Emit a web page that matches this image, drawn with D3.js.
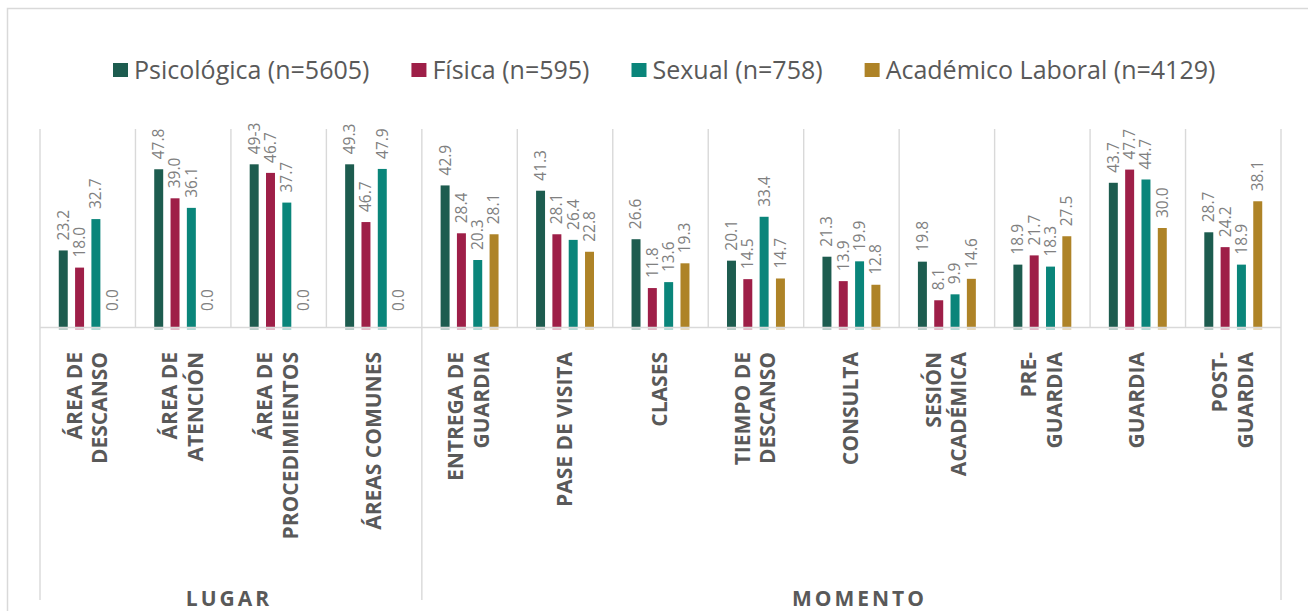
<!DOCTYPE html>
<html>
<head>
<meta charset="utf-8">
<script src="https://cdn.jsdelivr.net/npm/d3@7"></script>
<style>
  html, body { margin: 0; padding: 0; background: #ffffff; }
  svg { display: block; font-family: "Open Sans", "Noto Sans", sans-serif; }
</style>
</head>
<body>
<svg id="chart" width="1308" height="611"></svg>
<script>
// ---- data ----
const categories = [
  "ÁREA DE|DESCANSO", "ÁREA DE|ATENCIÓN", "ÁREA DE|PROCEDIMIENTOS", "ÁREAS COMUNES",
  "ENTREGA DE|GUARDIA", "PASE DE VISITA", "CLASES", "TIEMPO DE|DESCANSO", "CONSULTA",
  "SESIÓN|ACADÉMICA", "PRE-|GUARDIA", "GUARDIA", "POST-|GUARDIA"
];
const groupNames = ["LUGAR", "MOMENTO"];
const groupSizes = [4, 9];

const seriesNames = ["Psicológica (n=5605)", "Física (n=595)", "Sexual (n=758)", "Académico Laboral (n=4129)"];

const psicologica = [23.2, 47.8, 49.3, 49.3, 42.9, 41.3, 26.6, 20.1, 21.3, 19.8, 18.9, 43.7, 28.7];
const fisica      = [18.0, 39.0, 46.7, 31.8, 28.4, 28.1, 11.8, 14.5, 13.9, 8.1, 21.7, 47.7, 24.2];
const sexual      = [32.7, 36.1, 37.7, 47.9, 20.3, 26.4, 13.6, 33.4, 19.9, 9.9, 18.3, 44.7, 18.9];
const academico   = [0.0, 0.0, 0.0, 0.0, 28.1, 22.8, 19.3, 14.7, 12.8, 14.6, 27.5, 30.0, 38.1];

// data-label texts as printed on the chart
const psicologicaLabels = ["23.2", "47.8", "49-3", "49.3", "42.9", "41.3", "26.6", "20.1", "21.3", "19.8", "18.9", "43.7", "28.7"];
const fisicaLabels      = ["18.0", "39.0", "46.7", "46.7", "28.4", "28.1", "11.8", "14.5", "13.9", "8.1", "21.7", "47.7", "24.2"];
const sexualLabels      = ["32.7", "36.1", "37.7", "47.9", "20.3", "26.4", "13.6", "33.4", "19.9", "9.9", "18.3", "44.7", "18.9"];
const academicoLabels   = ["0.0", "0.0", "0.0", "0.0", "28.1", "22.8", "19.3", "14.7", "12.8", "14.6", "27.5", "30.0", "38.1"];

const colors = ["#1D5C4F", "#9E1F48", "#0A857A", "#AE8327"];

// ---- build ----
const seriesValues = [psicologica, fisica, sexual, academico];
const seriesLabels = [psicologicaLabels, fisicaLabels, sexualLabels, academicoLabels];

const svg = d3.select("#chart");
const gridColor = "#d9d9d9";

// outer chart border
svg.append("rect")
  .attr("x", 7.5).attr("y", 8.5).attr("width", 1330).attr("height", 640)
  .attr("fill", "none").attr("stroke", gridColor).attr("stroke-width", 1.5);

const x0 = d3.scaleBand().domain(d3.range(categories.length)).range([40, 1281]).padding(0);
const x1 = d3.scaleBand().domain(d3.range(seriesNames.length))
  .range([0, x0.bandwidth()]).paddingInner(0.45).paddingOuter(1.15);
const y = d3.scaleLinear().domain([0, 60]).range([327, 129]);

// category separators inside plot
const bounds = d3.range(categories.length + 1).map(i => i < categories.length ? x0(i) : x0(categories.length - 1) + x0.bandwidth());
svg.append("g").selectAll("line").data(bounds).join("line")
  .attr("x1", d => d).attr("x2", d => d)
  .attr("y1", y(60)).attr("y2", y(0))
  .attr("stroke", gridColor).attr("stroke-width", 1.4);

// bars
const barData = [];
seriesValues.forEach((arr, s) => arr.forEach((v, c) => barData.push({s, c, v, label: seriesLabels[s][c]})));

svg.append("g").selectAll("rect").data(barData.filter(d => d.v > 0)).join("rect")
  .attr("x", d => x0(d.c) + x1(d.s))
  .attr("y", d => y(d.v))
  .attr("width", x1.bandwidth())
  .attr("height", d => y(0) - y(d.v) + 1)
  .attr("fill", d => colors[d.s]);

// faint tint under baseline
svg.append("g").selectAll("rect").data(barData.filter(d => d.v > 0)).join("rect")
  .attr("x", d => x0(d.c) + x1(d.s))
  .attr("y", y(0) + 1)
  .attr("width", x1.bandwidth())
  .attr("height", 2)
  .attr("fill", d => colors[d.s]).attr("opacity", 0.3);

// baseline
svg.append("line")
  .attr("x1", 40).attr("x2", 1281).attr("y1", y(0) + 0.5).attr("y2", y(0) + 0.5)
  .attr("stroke", gridColor).attr("stroke-width", 1.5);

// data labels
svg.append("g").selectAll("text").data(barData).join("text")
  .attr("transform", d => `translate(${x0(d.c) + x1(d.s) + x1.bandwidth() / 2},${y(d.v) - (d.v > 0 ? 10 : 16)}) rotate(-90)`)
  .attr("text-anchor", "start")
  .attr("dy", "0.35em")
  .attr("font-size", 15.5)
  .attr("fill", "#808080")
  .text(d => d.label);

// category labels
const catG = svg.append("g");
categories.forEach((cat, i) => {
  const lines = cat.split("|");
  const cx = x0(i) + x0.bandwidth() / 2 - 1;
  const lh = 25.5;
  lines.forEach((ln, k) => {
    const lx = cx + (k - (lines.length - 1) / 2) * lh;
    catG.append("text")
      .attr("transform", `translate(${lx},352) rotate(-90)`)
      .attr("text-anchor", "end")
      .attr("dy", "0.36em")
      .attr("font-size", 21)
      .attr("font-weight", 700)
      .attr("fill", "#595959")
      .text(ln);
  });
});

// group dividers below the plot
let idx = 0;
const groupBounds = [x0(0)];
groupSizes.forEach(n => { idx += n; groupBounds.push(idx < categories.length ? x0(idx) : x0(categories.length - 1) + x0.bandwidth()); });
svg.append("g").selectAll("line").data(groupBounds).join("line")
  .attr("x1", d => d).attr("x2", d => d)
  .attr("y1", y(0)).attr("y2", 600)
  .attr("stroke", gridColor).attr("stroke-width", 1.4);

// group labels
svg.append("g").selectAll("text").data(groupNames).join("text")
  .attr("x", (d, i) => (groupBounds[i] + groupBounds[i + 1]) / 2 + (i === 0 ? -2 : 8))
  .attr("y", 606)
  .attr("text-anchor", "middle")
  .attr("font-size", 21)
  .attr("font-weight", 700)
  .attr("letter-spacing", 3)
  .attr("fill", "#595959")
  .text(d => d);

// legend
const legend = svg.append("g");
let lx = 113;
seriesNames.forEach((name, i) => {
  legend.append("rect")
    .attr("x", lx).attr("y", 63).attr("width", 15).attr("height", 14)
    .attr("fill", colors[i]);
  const t = legend.append("text")
    .attr("x", lx + 21).attr("y", 70)
    .attr("dy", "0.36em")
    .attr("font-size", 25)
    .attr("fill", "#595959")
    .text(name);
  lx += 21 + t.node().getComputedTextLength() + 42;
});
</script>
</body>
</html>
